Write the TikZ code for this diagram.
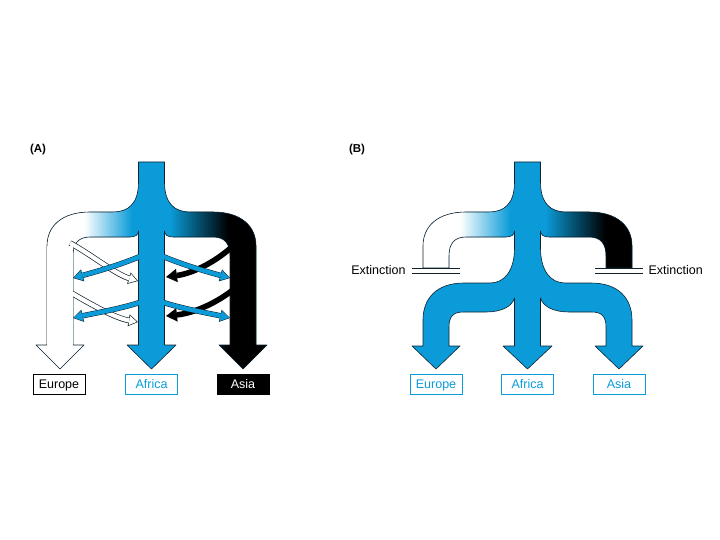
\documentclass[tikz,border=0pt]{standalone}
\usepackage{fontspec}
\setmainfont{Liberation Sans}
\usetikzlibrary{arrows.meta}
\definecolor{AfBlue}{HTML}{0A9BD8}
\definecolor{AfLine}{HTML}{10222E}

\tikzset{
  tag/.style={draw, line width=0.6pt, minimum width=52pt, minimum height=20pt,
              inner sep=0pt, text height=9pt, text depth=0pt,
              font=\fontsize{12.5}{12.5}\selectfont},
  panel/.style={font=\fontsize{11.5}{11.5}\selectfont\bfseries},
  outline/.style={draw=AfLine, line width=0.6pt, line join=round},
  extbar/.style={draw=AfLine, line width=0.9pt}
}

% outlined flow arrows
\newcommand\bluearrow[1]{%
  \draw[line width=5.4pt, AfLine, -{Triangle[length=10pt,width=12.5pt,line width=0pt]}] #1;
  \draw[line width=4.4pt, AfBlue, shorten >=0.94pt,
        -{Triangle[length=8.6pt,width=10.7pt,line width=0pt]}] #1;}
\newcommand\whitearrow[1]{%
  \draw[line width=5.6pt, AfLine, -{Triangle[length=9.5pt,width=12pt,line width=0pt]}] #1;
  \draw[line width=4.2pt, white, shorten >=1.3pt,
        -{Triangle[length=7.5pt,width=9.6pt,line width=0pt]}] #1;}
\newcommand\blackarrow[1]{%
  \draw[line width=5.6pt, black, -{Triangle[length=11pt,width=13.5pt,line width=0pt]}] #1;}

% outline of panel A
\def\silA{(138.5,162) -- (138.5,182) .. controls (138.5,204) and (128,212) .. (113,212)
  -- (90,212) .. controls (62,212) and (47,226) .. (47,246) -- (47,345) -- (36,345)
  -- (60,369) -- (84,345) -- (73,345) -- (73,256) .. controls (73,244) and (78,237) .. (90,237)
  -- (130,237) .. controls (135,237) and (138.5,235) .. (138.5,231) -- (138.5,345)
  -- (127,345) -- (151.5,369) -- (176,345) -- (164.5,345) -- (164.5,231)
  .. controls (164.5,235) and (168,237) .. (173,237) -- (213,237)
  .. controls (225,237) and (230,244) .. (230,256) -- (230,345) -- (219,345) -- (243,369)
  -- (267,345) -- (256,345) -- (256,246) .. controls (256,226) and (241,212) .. (213,212)
  -- (190,212) .. controls (175,212) and (164.5,204) .. (164.5,182) -- (164.5,162) -- cycle}

% outline of panel B
\def\silB{(514.5,162) -- (514.5,182) .. controls (514.5,204) and (504,212) .. (489,212)
  -- (466,212) .. controls (438,212) and (423,226) .. (423,246) -- (423,268) -- (449,268)
  -- (449,256) .. controls (449,244) and (454,237) .. (466,237) -- (506,237)
  .. controls (511,237) and (514.5,235) .. (514.5,231) -- (514.5,248)
  .. controls (514.5,270) and (505,283) .. (490,283) -- (464,283)
  .. controls (437,283) and (423,298) .. (423,320) -- (423,346) -- (412,346) -- (436,369)
  -- (460,346) -- (449,346) -- (449,327) .. controls (449,317) and (453,312) .. (463,312)
  -- (485,312) .. controls (503,312) and (512,306) .. (514.5,298) -- (514.5,346)
  -- (503,346) -- (527.5,369) -- (552,346) -- (540.5,346) -- (540.5,298)
  .. controls (543,306) and (552,312) .. (570,312) -- (592,312)
  .. controls (602,312) and (606,317) .. (606,327) -- (606,346) -- (595,346) -- (619,369)
  -- (643,346) -- (632,346) -- (632,320) .. controls (632,298) and (618,283) .. (591,283)
  -- (565,283) .. controls (550,283) and (540.5,270) .. (540.5,248) -- (540.5,231)
  .. controls (540.5,235) and (544,237) .. (549,237) -- (589,237)
  .. controls (601,237) and (606,244) .. (606,256) -- (606,268) -- (632,268) -- (632,246)
  .. controls (632,226) and (617,212) .. (589,212) -- (566,212)
  .. controls (551,212) and (540.5,204) .. (540.5,182) -- (540.5,162) -- cycle}

\begin{document}
\begin{tikzpicture}[x=1pt, y=-1pt]
  \useasboundingbox (0,0) rectangle (720,540);

  % ---- (A) ----
  \node[panel] (titleA) at (38,150) {(A)};
  \begin{scope}
    \clip \silA;
    \fill[AfBlue] (20,150) rectangle (280,380);
    \fill[white] (20,150) rectangle (84,380);
    \shade[left color=white, right color=AfBlue] (84,150) rectangle (132,380);
    \shade[left color=AfBlue, right color=black] (170,150) rectangle (228,380);
    \fill[black] (228,150) rectangle (280,380);
  \end{scope}
  \draw[outline] \silA;

  \whitearrow{(70,243) .. controls (92,255) and (115,274) .. (138,281)}
  \whitearrow{(68,291) .. controls (92,305) and (115,318) .. (138,322)}
  \blackarrow{(234,245) .. controls (218,260) and (195,273) .. (166,277)}
  \blackarrow{(234,289) .. controls (218,302) and (195,313) .. (166,316)}
  \bluearrow{(141,256) .. controls (120,265) and (95,272) .. (73,278)}
  \bluearrow{(141,302) .. controls (120,309) and (95,313) .. (73,318)}
  \bluearrow{(162,256) .. controls (183,265) and (208,272) .. (230,278)}
  \bluearrow{(162,302) .. controls (183,309) and (208,313) .. (230,318)}
  \fill[white] (47.4,246) rectangle (72.6,344.5);
  \fill[AfBlue] (138.9,228) rectangle (164.1,344.5);

  \node[tag, draw=black] (europeA) at (59,384) {Europe};
  \node[tag, draw=AfBlue, text=AfBlue] (africaA) at (151.5,384) {Africa};
  \node[tag, draw=black, fill=black, text=white] (asiaA) at (243,384) {Asia};

  % ---- (B) ----
  \node[panel] (titleB) at (357,150) {(B)};
  \begin{scope}
    \clip \silB;
    \fill[AfBlue] (400,150) rectangle (660,380);
    \fill[white] (400,150) rectangle (460,272);
    \shade[left color=white, right color=AfBlue] (460,150) rectangle (510,258);
    \shade[left color=AfBlue, right color=black] (545,150) rectangle (605,258);
    \fill[black] (605,150) rectangle (660,272);
  \end{scope}
  \draw[outline] \silB;

  \draw[extbar] (412,268) -- (460,268) (412,273) -- (460,273);
  \draw[extbar] (595,268) -- (643,268) (595,273) -- (643,273);
  \node[anchor=east, font=\fontsize{12.5}{12.5}\selectfont] (extinctL) at (409,270) {Extinction};
  \node[anchor=west, font=\fontsize{12.5}{12.5}\selectfont] (extinctR) at (645,270) {Extinction};

  \node[tag, draw=AfBlue, text=AfBlue] (europeB) at (436,384) {Europe};
  \node[tag, draw=AfBlue, text=AfBlue] (africaB) at (527.5,384) {Africa};
  \node[tag, draw=AfBlue, text=AfBlue] (asiaB) at (619,384) {Asia};
\end{tikzpicture}
\end{document}
